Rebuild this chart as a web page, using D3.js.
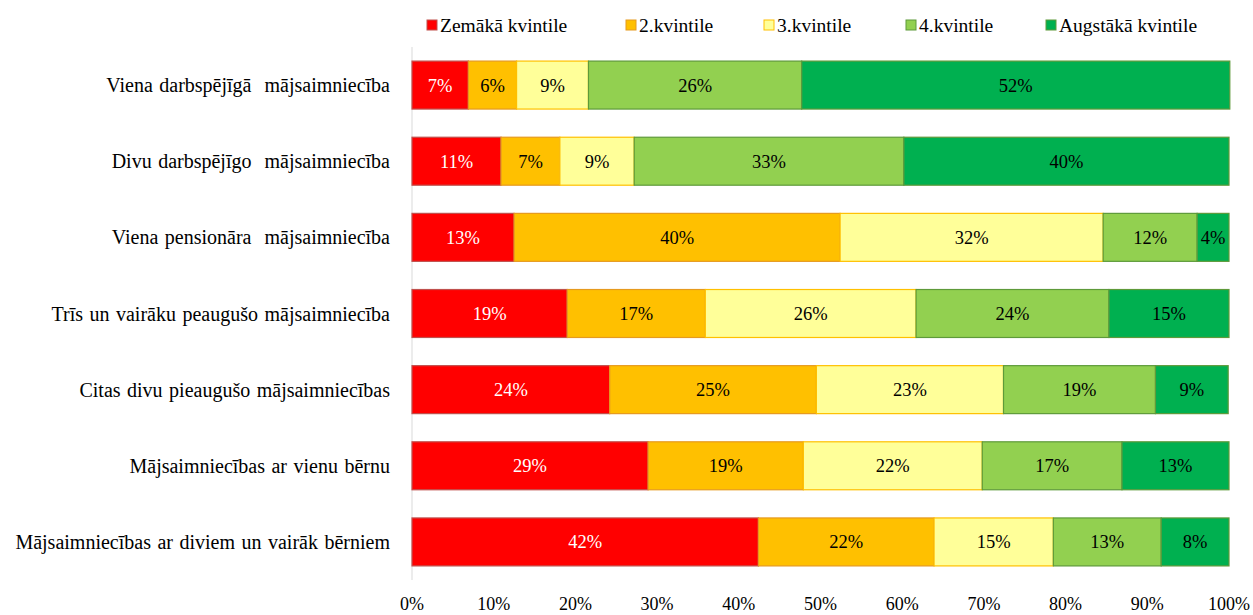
<!DOCTYPE html>
<html>
<head>
<meta charset="utf-8">
<script src="https://cdn.jsdelivr.net/npm/d3@7"></script>
<style>
  body { margin: 0; background: #fff; }
  text { font-family: "Liberation Serif", "Times New Roman", serif; }
</style>
</head>
<body>
<div id="chart"></div>
<script>
const categories = [
  "Viena darbspējīgā  mājsaimniecība",
  "Divu darbspējīgo  mājsaimniecība",
  "Viena pensionāra  mājsaimniecība",
  "Trīs un vairāku peaugušo mājsaimniecība",
  "Citas divu pieaugušo mājsaimniecības",
  "Mājsaimniecības ar vienu bērnu",
  "Mājsaimniecības ar diviem un vairāk bērniem"
];
const seriesNames = ["Zemākā kvintile", "2.kvintile", "3.kvintile", "4.kvintile", "Augstākā kvintile"];

// values per row, in series order (percent)
const zemaka   = [6.9, 10.9, 12.5, 19.0, 24.2, 28.9, 42.4];
const kv2      = [5.9, 7.2, 39.9, 16.9, 25.3, 19.0, 21.5];
const kv3      = [8.8, 9.1, 32.2, 25.8, 22.9, 21.9, 14.6];
const kv4      = [26.1, 33.0, 11.5, 23.6, 18.6, 17.1, 13.2];
const augstaka = [52.4, 39.8, 3.9, 14.7, 8.9, 13.1, 8.3];
const xTicks = [0, 10, 20, 30, 40, 50, 60, 70, 80, 90, 100];

const fills   = ["#FF0000", "#FFC000", "#FFFF99", "#92D050", "#00B050"];
const strokes = ["#C0504D", "#E69A1E", "#FFC000", "#5E9A3A", "#5E9A3A"];
const textCols = ["#fff", "#000", "#000", "#000", "#000"];

const width = 1253, height = 615;
const svg = d3.select("#chart").append("svg")
  .attr("width", width).attr("height", height);

const x = d3.scaleLinear().domain([0, 100]).range([412, 1229]);
const y = d3.scaleBand().domain(categories).range([47, 580]).paddingInner(0.37).paddingOuter(0.185);

const table = categories.map((c, i) => ({
  cat: c, zemaka: zemaka[i], kv2: kv2[i], kv3: kv3[i], kv4: kv4[i], augstaka: augstaka[i]
}));
const keys = ["zemaka", "kv2", "kv3", "kv4", "augstaka"];
const stacked = d3.stack().keys(keys)(table);

// vertical axis line
svg.append("line")
  .attr("x1", x(0)).attr("x2", x(0))
  .attr("y1", 47).attr("y2", 580)
  .attr("stroke", "#d9d9d9").attr("stroke-width", 1);

const groups = svg.selectAll("g.series")
  .data(stacked)
  .enter().append("g")
  .attr("class", "series");

groups.selectAll("rect")
  .data(d => d.map(p => ({ p, key: d.key, idx: d.index })))
  .enter().append("rect")
  .attr("x", d => x(d.p[0]))
  .attr("y", d => y(d.p.data.cat))
  .attr("width", d => x(d.p[1]) - x(d.p[0]))
  .attr("height", y.bandwidth())
  .attr("fill", d => fills[d.idx])
  .attr("stroke", d => strokes[d.idx])
  .attr("stroke-width", 1.2);

groups.selectAll("text")
  .data(d => d.map(p => ({ p, key: d.key, idx: d.index })))
  .enter().append("text")
  .attr("x", d => (x(d.p[0]) + x(d.p[1])) / 2)
  .attr("y", d => y(d.p.data.cat) + y.bandwidth() / 2)
  .attr("dy", "0.35em")
  .attr("text-anchor", "middle")
  .attr("font-size", 18.5)
  .attr("fill", d => textCols[d.idx])
  .text(d => Math.round(d.p[1] - d.p[0]) + "%");

// category labels
svg.append("g").selectAll("text")
  .data(categories)
  .enter().append("text")
  .attr("x", 390)
  .attr("y", d => y(d) + y.bandwidth() / 2)
  .attr("dy", "0.35em")
  .attr("text-anchor", "end")
  .attr("font-size", 20)
  .attr("word-spacing", 1.5)
  .attr("fill", "#000")
  .style("white-space", "pre")
  .text(d => d);

// x tick labels
svg.append("g").selectAll("text")
  .data(xTicks)
  .enter().append("text")
  .attr("x", d => x(d))
  .attr("y", 610)
  .attr("text-anchor", "middle")
  .attr("font-size", 18)
  .attr("fill", "#000")
  .text(d => d + "%");

// legend
const legendX = [427, 626, 764, 906, 1046];
const legend = svg.append("g").selectAll("g")
  .data(seriesNames)
  .enter().append("g")
  .attr("transform", (d, i) => `translate(${legendX[i]},20)`);
legend.append("rect")
  .attr("width", 10).attr("height", 10)
  .attr("fill", (d, i) => fills[i])
  .attr("stroke", (d, i) => strokes[i]);
legend.append("text")
  .attr("x", 13).attr("y", 11.5)
  .attr("font-size", 19.5)
  .attr("fill", "#000")
  .text(d => d);
</script>
</body>
</html>
